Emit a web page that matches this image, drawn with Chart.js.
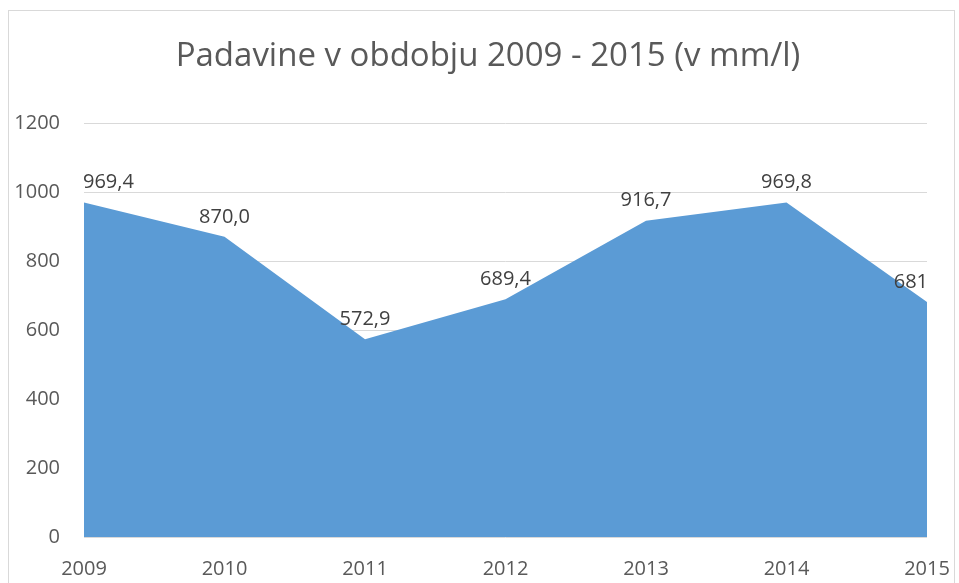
<!DOCTYPE html>
<html>
<head>
<meta charset="utf-8">
<script src="https://cdn.jsdelivr.net/npm/chart.js@4.4.1/dist/chart.umd.min.js"></script>
<style>
html,body{margin:0;padding:0;background:#fff;}
canvas{display:block;}
</style>
</head>
<body>
<canvas id="c" width="959" height="583"></canvas>
<script>
const years = ['2009','2010','2011','2012','2013','2014','2015'];
const rainfall = [969.4, 870.0, 572.9, 689.4, 916.7, 969.8, 681];
const valueLabels = ['969,4','870,0','572,9','689,4','916,7','969,8','681'];
const yTicks = [0, 200, 400, 600, 800, 1000, 1200];
const titleText = 'Padavine v obdobju 2009 - 2015 (v mm/l)';

const FONT = "'Open Sans', 'Noto Sans', sans-serif";

const frame = {
  id: 'frame',
  beforeDraw(chart) {
    const ctx = chart.ctx;
    ctx.save();
    ctx.fillStyle = '#ffffff';
    ctx.fillRect(0, 0, chart.width, chart.height);
    ctx.strokeStyle = '#d9d9d9';
    ctx.lineWidth = 1;
    ctx.strokeRect(8.5, 10.5, 946, 580);
    ctx.restore();
  },
  afterDraw(chart) {
    const ctx = chart.ctx;
    ctx.save();
    ctx.font = '33px ' + FONT;
    ctx.fillStyle = '#595959';
    ctx.textAlign = 'center';
    ctx.textBaseline = 'middle';
    ctx.fillText(titleText, 488, 57);
    ctx.restore();
  }
};

const dataLabels = {
  id: 'dataLabels',
  afterDatasetsDraw(chart) {
    const ctx = chart.ctx;
    const meta = chart.getDatasetMeta(0);
    const area = chart.chartArea;
    ctx.save();
    ctx.font = '20px ' + FONT;
    ctx.fillStyle = '#404040';
    ctx.textBaseline = 'middle';
    ctx.textAlign = 'center';
    meta.data.forEach((pt, i) => {
      const txt = valueLabels[i];
      const w = ctx.measureText(txt).width;
      let x = pt.x;
      x = Math.max(x, area.left - 1 + w / 2);
      x = Math.min(x, area.right + 1 - w / 2);
      ctx.fillText(txt, x, pt.y - 20);
    });
    ctx.restore();
  }
};

new Chart(document.getElementById('c'), {
  type: 'line',
  data: {
    labels: years,
    datasets: [{
      data: rainfall,
      fill: 'origin',
      backgroundColor: '#5b9bd5',
      borderWidth: 0,
      borderColor: 'rgba(0,0,0,0)',
      pointRadius: 0,
      tension: 0
    }]
  },
  options: {
    responsive: false,
    animation: false,
    layout: { padding: { left: 12, right: 32, top: 123, bottom: 0 } },
    plugins: {
      legend: { display: false },
      tooltip: { enabled: false },
      title: { display: false }
    },
    scales: {
      x: {
        offset: false,
        grid: { display: false, drawTicks: false },
        border: { display: false },
        ticks: {
          color: '#595959',
          font: { family: FONT, size: 20 },
          padding: 20,
          maxRotation: 0,
          autoSkip: false
        },
        afterFit(s) { s.height = 46; s.paddingRight = 0; s.paddingLeft = 0; }
      },
      y: {
        min: 0,
        max: 1200,
        afterBuildTicks(s) { s.ticks = yTicks.map(v => ({ value: v })); },
        grid: { color: '#d9d9d9', drawTicks: false, lineWidth: 1 },
        border: { display: false },
        ticks: {
          color: '#595959',
          font: { family: FONT, size: 20 },
          padding: 24,
          callback: (v) => String(v)
        },
        afterFit(s) { s.width = 72; s.paddingTop = 0; s.paddingBottom = 0; }
      }
    }
  },
  plugins: [frame, dataLabels]
});
</script>
</body>
</html>
